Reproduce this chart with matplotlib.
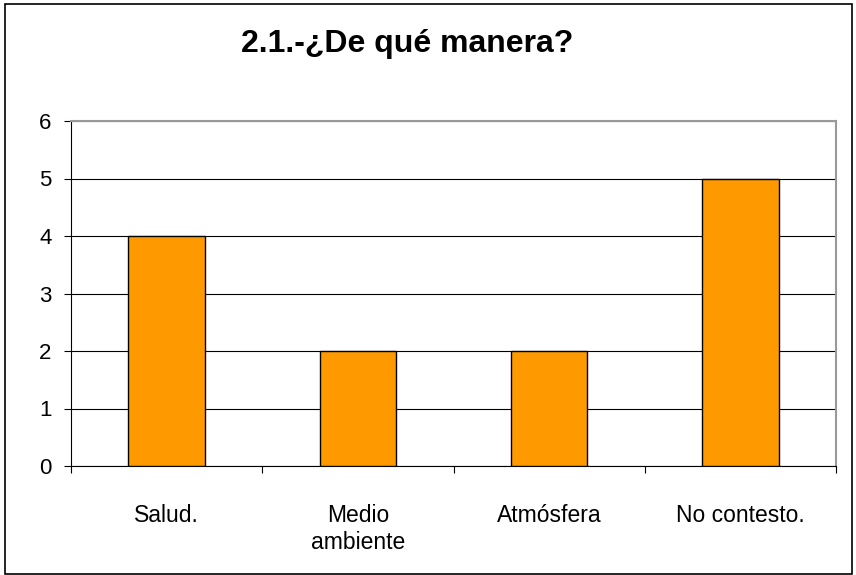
import matplotlib.pyplot as plt
from matplotlib.patches import Rectangle
import numpy as np

plt.rcParams['font.family'] = ['Liberation Sans', 'DejaVu Sans']

categories = ['Salud.', 'Medio\nambiente', 'Atmósfera', 'No contesto.']
values = [4, 2, 2, 5]
title = '2.1.-¿De qué manera?'

fig = plt.figure(figsize=(8.56, 5.75), dpi=100)
# outer frame of the chart
fig.patches.append(Rectangle((4.5 / 856, 0.002), 847.5 / 856, 1 - 3.5 / 575 - 0.002,
                             transform=fig.transFigure, fill=False,
                             edgecolor='black', linewidth=1.2))

ax = fig.add_axes([71 / 856, 1 - 466 / 575, 765 / 856, 345 / 575])
x = np.arange(len(categories))
ax.bar(x, values, width=0.4, color='#FF9900', edgecolor='black', linewidth=1.0, zorder=3)

ax.set_xlim(-0.5, len(categories) - 0.5)
ax.set_ylim(0, 6)
ax.set_yticks(range(0, 7))
ax.yaxis.grid(True, color='black', linewidth=0.8, zorder=0)
ax.set_axisbelow(True)

ax.set_xticks(x)
ax.set_xticklabels(categories, fontsize=16.5, linespacing=1.25)
ax.tick_params(axis='x', which='major', length=0, pad=27)
ax.set_xticks(np.arange(-0.5, len(categories)), minor=True)
ax.tick_params(axis='x', which='minor', length=5, width=0.8, direction='out')
ax.tick_params(axis='y', length=5, width=0.8, pad=9, labelsize=16)

for s in ['top', 'right']:
    ax.spines[s].set_color('#999999')
    ax.spines[s].set_linewidth(1.5)
for s in ['left', 'bottom']:
    ax.spines[s].set_color('black')
    ax.spines[s].set_linewidth(0.8)

fig.text(407 / 856, 1 - 52 / 575, title, ha='center', va='baseline',
         fontsize=23, fontweight='bold')

fig.savefig('out.png', dpi=100)
